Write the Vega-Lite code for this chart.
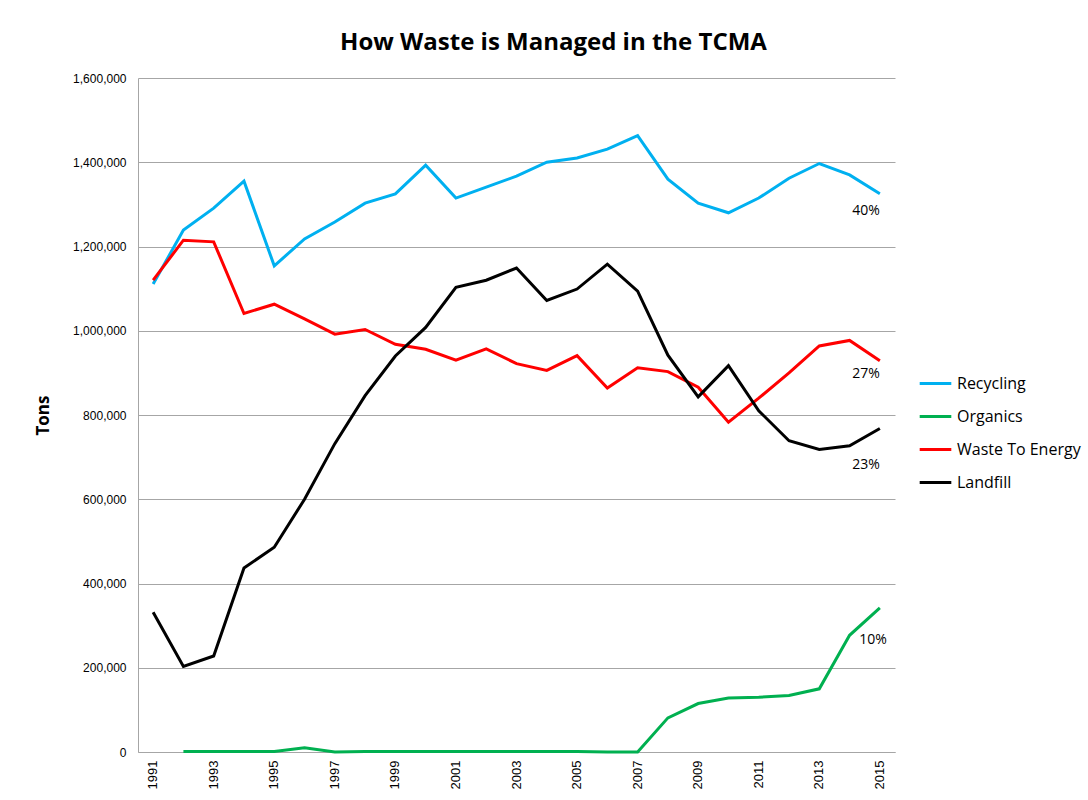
{
  "$schema": "https://vega.github.io/schema/vega-lite/v6.json",
  "width": 757,
  "height": 674,
  "autosize": {"type": "none"},
  "padding": {"left": 138, "top": 78, "right": 193, "bottom": 48},
  "background": "white",
  "config": {
    "font": "Liberation Sans",
    "view": {"stroke": null}
  },
  "title": {
    "text": "How Waste is Managed in the TCMA",
    "font": "Open Sans",
    "fontSize": 24,
    "fontWeight": "bold",
    "color": "#000000",
    "anchor": "middle",
    "dx": 37,
    "offset": 17
  },
  "datasets": {
    "series": [
      {"year": 1991, "type": "Recycling", "tons": 1111000},
      {"year": 1992, "type": "Recycling", "tons": 1239000},
      {"year": 1993, "type": "Recycling", "tons": 1291000},
      {"year": 1994, "type": "Recycling", "tons": 1355000},
      {"year": 1995, "type": "Recycling", "tons": 1154000},
      {"year": 1996, "type": "Recycling", "tons": 1218000},
      {"year": 1997, "type": "Recycling", "tons": 1258000},
      {"year": 1998, "type": "Recycling", "tons": 1303000},
      {"year": 1999, "type": "Recycling", "tons": 1325000},
      {"year": 2000, "type": "Recycling", "tons": 1393000},
      {"year": 2001, "type": "Recycling", "tons": 1315000},
      {"year": 2002, "type": "Recycling", "tons": 1341000},
      {"year": 2003, "type": "Recycling", "tons": 1367000},
      {"year": 2004, "type": "Recycling", "tons": 1400000},
      {"year": 2005, "type": "Recycling", "tons": 1410000},
      {"year": 2006, "type": "Recycling", "tons": 1431000},
      {"year": 2007, "type": "Recycling", "tons": 1463000},
      {"year": 2008, "type": "Recycling", "tons": 1360000},
      {"year": 2009, "type": "Recycling", "tons": 1303000},
      {"year": 2010, "type": "Recycling", "tons": 1280000},
      {"year": 2011, "type": "Recycling", "tons": 1315000},
      {"year": 2012, "type": "Recycling", "tons": 1362000},
      {"year": 2013, "type": "Recycling", "tons": 1397000},
      {"year": 2014, "type": "Recycling", "tons": 1370000},
      {"year": 2015, "type": "Recycling", "tons": 1325000},
      {"year": 1992, "type": "Organics", "tons": 1000},
      {"year": 1993, "type": "Organics", "tons": 1000},
      {"year": 1994, "type": "Organics", "tons": 1000},
      {"year": 1995, "type": "Organics", "tons": 1000},
      {"year": 1996, "type": "Organics", "tons": 10000},
      {"year": 1997, "type": "Organics", "tons": 0},
      {"year": 1998, "type": "Organics", "tons": 1000},
      {"year": 1999, "type": "Organics", "tons": 1000},
      {"year": 2000, "type": "Organics", "tons": 1000},
      {"year": 2001, "type": "Organics", "tons": 1000},
      {"year": 2002, "type": "Organics", "tons": 1000},
      {"year": 2003, "type": "Organics", "tons": 1000},
      {"year": 2004, "type": "Organics", "tons": 1000},
      {"year": 2005, "type": "Organics", "tons": 1000},
      {"year": 2006, "type": "Organics", "tons": 0},
      {"year": 2007, "type": "Organics", "tons": 0},
      {"year": 2008, "type": "Organics", "tons": 81000},
      {"year": 2009, "type": "Organics", "tons": 115000},
      {"year": 2010, "type": "Organics", "tons": 128000},
      {"year": 2011, "type": "Organics", "tons": 130000},
      {"year": 2012, "type": "Organics", "tons": 134000},
      {"year": 2013, "type": "Organics", "tons": 150000},
      {"year": 2014, "type": "Organics", "tons": 277000},
      {"year": 2015, "type": "Organics", "tons": 342000},
      {"year": 1991, "type": "Waste To Energy", "tons": 1120000},
      {"year": 1992, "type": "Waste To Energy", "tons": 1215000},
      {"year": 1993, "type": "Waste To Energy", "tons": 1211000},
      {"year": 1994, "type": "Waste To Energy", "tons": 1041000},
      {"year": 1995, "type": "Waste To Energy", "tons": 1063000},
      {"year": 1996, "type": "Waste To Energy", "tons": 1028000},
      {"year": 1997, "type": "Waste To Energy", "tons": 992000},
      {"year": 1998, "type": "Waste To Energy", "tons": 1003000},
      {"year": 1999, "type": "Waste To Energy", "tons": 968000},
      {"year": 2000, "type": "Waste To Energy", "tons": 956000},
      {"year": 2001, "type": "Waste To Energy", "tons": 930000},
      {"year": 2002, "type": "Waste To Energy", "tons": 957000},
      {"year": 2003, "type": "Waste To Energy", "tons": 922000},
      {"year": 2004, "type": "Waste To Energy", "tons": 906000},
      {"year": 2005, "type": "Waste To Energy", "tons": 941000},
      {"year": 2006, "type": "Waste To Energy", "tons": 864000},
      {"year": 2007, "type": "Waste To Energy", "tons": 912000},
      {"year": 2008, "type": "Waste To Energy", "tons": 903000},
      {"year": 2009, "type": "Waste To Energy", "tons": 866000},
      {"year": 2010, "type": "Waste To Energy", "tons": 783000},
      {"year": 2011, "type": "Waste To Energy", "tons": 840000},
      {"year": 2012, "type": "Waste To Energy", "tons": 900000},
      {"year": 2013, "type": "Waste To Energy", "tons": 964000},
      {"year": 2014, "type": "Waste To Energy", "tons": 977000},
      {"year": 2015, "type": "Waste To Energy", "tons": 929000},
      {"year": 1991, "type": "Landfill", "tons": 332000},
      {"year": 1992, "type": "Landfill", "tons": 203000},
      {"year": 1993, "type": "Landfill", "tons": 228000},
      {"year": 1994, "type": "Landfill", "tons": 437000},
      {"year": 1995, "type": "Landfill", "tons": 486000},
      {"year": 1996, "type": "Landfill", "tons": 600000},
      {"year": 1997, "type": "Landfill", "tons": 732000},
      {"year": 1998, "type": "Landfill", "tons": 846000},
      {"year": 1999, "type": "Landfill", "tons": 940000},
      {"year": 2000, "type": "Landfill", "tons": 1008000},
      {"year": 2001, "type": "Landfill", "tons": 1103000},
      {"year": 2002, "type": "Landfill", "tons": 1120000},
      {"year": 2003, "type": "Landfill", "tons": 1149000},
      {"year": 2004, "type": "Landfill", "tons": 1072000},
      {"year": 2005, "type": "Landfill", "tons": 1099000},
      {"year": 2006, "type": "Landfill", "tons": 1158000},
      {"year": 2007, "type": "Landfill", "tons": 1094000},
      {"year": 2008, "type": "Landfill", "tons": 942000},
      {"year": 2009, "type": "Landfill", "tons": 843000},
      {"year": 2010, "type": "Landfill", "tons": 917000},
      {"year": 2011, "type": "Landfill", "tons": 810000},
      {"year": 2012, "type": "Landfill", "tons": 739000},
      {"year": 2013, "type": "Landfill", "tons": 718000},
      {"year": 2014, "type": "Landfill", "tons": 727000},
      {"year": 2015, "type": "Landfill", "tons": 768000}
    ],
    "labels": [
      {"year": 2015, "tons": 1284000, "label": "40%"},
      {"year": 2015, "tons": 897000, "label": "27%"},
      {"year": 2015, "tons": 681000, "label": "23%"}
    ],
    "labels2": [
      {"year": 2015, "tons": 266000, "label": "10%"}
    ]
  },
  "encoding": {
    "x": {
      "field": "year",
      "type": "ordinal",
      "scale": {"type": "band", "paddingInner": 0, "paddingOuter": 0},
      "axis": {
        "title": null,
        "values": [1991, 1993, 1995, 1997, 1999, 2001, 2003, 2005, 2007, 2009, 2011, 2013, 2015],
        "labelAngle": -90,
        "labelFont": "Liberation Sans",
        "labelFontSize": 13,
        "labelColor": "#000000",
        "labelPadding": 8,
        "ticks": false,
        "domainColor": "#a6a6a6",
        "domainWidth": 1,
        "grid": false
      }
    },
    "y": {
      "field": "tons",
      "type": "quantitative",
      "scale": {"domain": [0, 1600000], "nice": false},
      "axis": {
        "title": "Tons",
        "titleFont": "Open Sans",
        "titleFontSize": 17,
        "titleFontWeight": "bold",
        "titleColor": "#000000",
        "titlePadding": 20,
        "values": [0, 200000, 400000, 600000, 800000, 1000000, 1200000, 1400000, 1600000],
        "format": ",.0f",
        "labelFont": "Liberation Sans",
        "labelFontSize": 12,
        "labelColor": "#000000",
        "labelPadding": 12,
        "ticks": false,
        "domainColor": "#a6a6a6",
        "grid": true,
        "gridColor": "#a6a6a6",
        "gridWidth": 1
      }
    }
  },
  "layer": [
    {
      "data": {"name": "series"},
      "mark": {"type": "line", "strokeWidth": 3},
      "encoding": {
        "color": {
          "field": "type",
          "type": "nominal",
          "scale": {
            "domain": ["Recycling", "Organics", "Waste To Energy", "Landfill"],
            "range": ["#00b0f0", "#00b050", "#ff0000", "#000000"]
          },
          "legend": {
            "title": null,
            "orient": "none",
            "legendX": 780,
            "legendY": 288,
            "symbolType": "stroke",
            "symbolStrokeWidth": 3,
            "symbolSize": 1000,
            "labelFont": "Open Sans",
            "labelFontSize": 16,
            "labelColor": "#000000",
            "labelOffset": 4,
            "rowPadding": 7,
            "labelLimit": 300
          }
        },
        "detail": {"field": "type"}
      }
    },
    {
      "data": {"name": "labels"},
      "mark": {"type": "text", "align": "right", "baseline": "middle", "font": "Open Sans", "fontSize": 14, "color": "#000000"},
      "encoding": {"text": {"field": "label"}}
    },
    {
      "data": {"name": "labels2"},
      "mark": {"type": "text", "align": "right", "baseline": "middle", "dx": 7, "font": "Open Sans", "fontSize": 14, "color": "#000000"},
      "encoding": {"text": {"field": "label"}}
    }
  ]
}
